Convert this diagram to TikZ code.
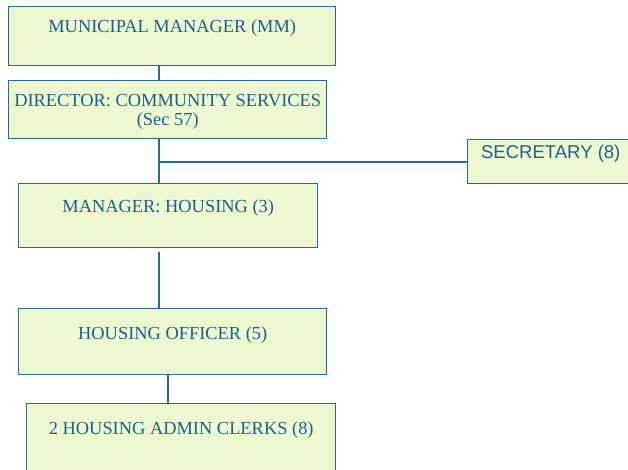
\documentclass[tikz,border=0pt]{standalone}
\usepackage{fontspec}
\setmainfont{Liberation Serif}
\newfontfamily\secfont{Liberation Sans}
\usepackage{tikz}
\usetikzlibrary{positioning}
\usetikzlibrary{calc}

\definecolor{boxfill}{RGB}{237,248,208}
\definecolor{boxblue}{RGB}{36,108,152}
\definecolor{txtblue}{RGB}{30,96,140}

\begin{document}
\begin{tikzpicture}[
    x=0.75pt, y=-0.75pt,        % pixel grid of the original chart
    ]
% -------------------------------------------------
\tikzset{
  box/.style={draw=boxblue, fill=boxfill, line width=1.1pt, rectangle, anchor=north west,
              align=center, inner sep=0pt, text=txtblue, font=\fontsize{13.8}{14.25}\selectfont},
  secbox/.style={box, font=\secfont\fontsize{13.9}{15}\selectfont},
  line/.style={draw=boxblue, line width=1.5pt}
}
\useasboundingbox (0,0) rectangle (628,469);
% -------------------------------------------------
% Placing the nodes

\node [box, minimum width=245.25pt, text height=19.5pt, text depth=24.75pt] (mm) at (8,6) {MUNICIPAL MANAGER (MM)};
\node [box, minimum width=238.5pt, text height=33.75pt, text depth=9.75pt] (dir) at (8,80) {DIRECTOR: COMMUNITY SERVICES\\(Sec 57)};
\node [secbox, minimum width=124.5pt, text height=14.25pt, text depth=18.75pt] (sec) at (467,139) {SECRETARY (8)};
\node [box, minimum width=224.25pt, text height=21.75pt, text depth=26.25pt] (mgr) at (18,183) {MANAGER: HOUSING (3)};
\node [box, minimum width=231pt, text height=23.25pt, text depth=26.25pt] (off) at (18,308) {HOUSING OFFICER (5)};
\node [box, minimum width=231.75pt, text height=23.25pt, text depth=30pt] (clk) at (26,403) {2 HOUSING ADMIN CLERKS (8)};

\coordinate (spine) at (159,0);
\coordinate (drop) at (168,0);

\path [line] (mm.south -| spine) -- (dir.north -| spine);
\path [line] (dir.south -| spine) -- (mgr.north -| spine);
\path [line] (sec.west -| spine) -- (sec.west);
\path [line, shorten <=2.5pt] (mgr.south -| spine) -- (off.north -| spine);
\path [line] (off.south -| drop) -- (clk.north -| drop);

\end{tikzpicture}
\end{document}
